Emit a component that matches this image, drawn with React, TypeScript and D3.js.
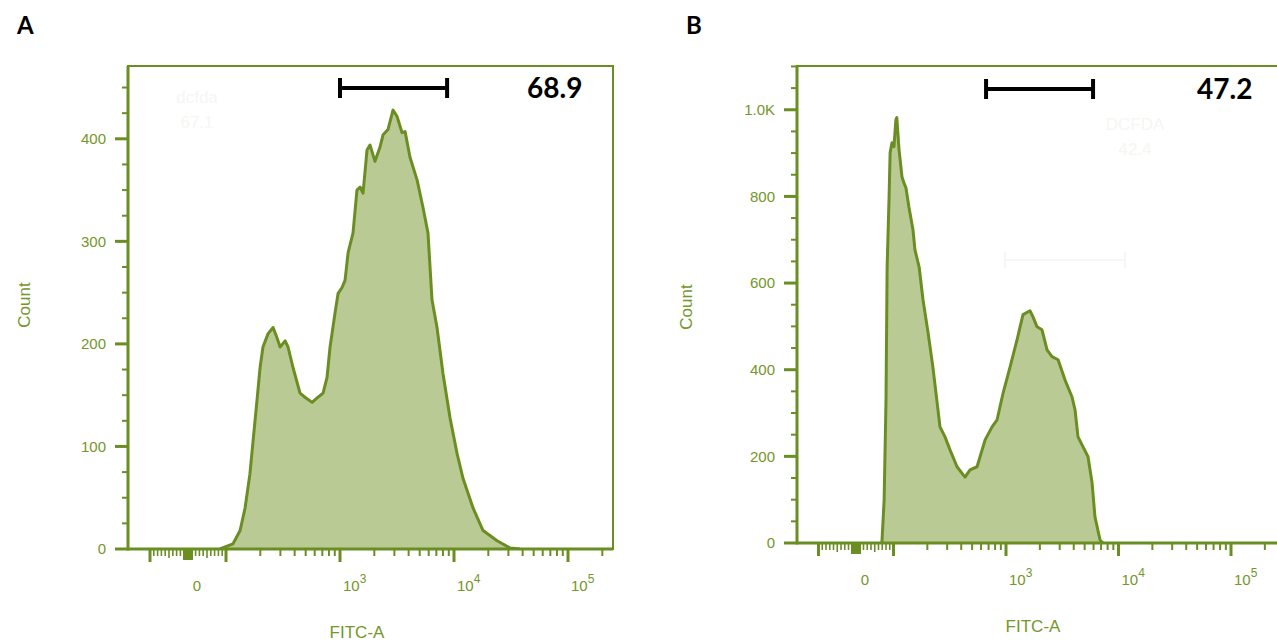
import React from 'react';
import * as d3 from 'd3';

// ---- Data ----
// Panel A histogram: FITC-A intensity vs count
const fitcA = [84, 115, 133, 147, 162, 173, 187, 199, 211, 234, 259, 280, 298, 330, 350, 387, 446, 493, 569, 641, 710, 769, 818, 904, 961, 1042, 1107, 1178, 1300, 1409, 1500, 1592, 1726, 1832, 2028, 2244, 2388, 2636, 2917, 3162, 3500, 3724, 4111, 4742, 5346, 5916, 6412, 7096, 8010, 9226, 10640, 11990, 14690, 17980, 23880, 31050, 37930];
const countA = [0, 5, 18, 40, 73, 106, 145, 177, 197, 210, 216, 206, 197, 203, 197, 177, 152, 148, 143, 148, 152, 167, 197, 230, 249, 255, 262, 289, 308, 350, 353, 347, 389, 394, 378, 392, 404, 409, 428, 422, 406, 407, 382, 360, 333, 308, 243, 216, 171, 128, 93, 69, 40, 18, 8, 1, 0];

// Panel B histogram
const fitcB = [69, 75, 80, 83, 88, 91, 96, 101, 105, 107, 112, 119, 124, 129, 137, 149, 155, 169, 183, 203, 224, 259, 287, 318, 367, 432, 479, 553, 652, 752, 832, 942, 1086, 1253, 1416, 1636, 1738, 1888, 2089, 2317, 2564, 2904, 3350, 3864, 4111, 4365, 4842, 5358, 5821, 6180, 6855, 7295];
const countB = [0, 99, 330, 637, 792, 901, 924, 915, 977, 982, 908, 845, 831, 820, 776, 723, 677, 637, 561, 485, 406, 268, 245, 215, 176, 152, 169, 176, 238, 268, 284, 346, 406, 469, 527, 536, 522, 499, 492, 446, 430, 423, 376, 337, 307, 245, 222, 199, 139, 60, 7, 0];

const yTicksA = [0, 100, 200, 300, 400];
const yTickLabelsA = ['0', '100', '200', '300', '400'];
const yTicksB = [0, 200, 400, 600, 800, 1000];
const yTickLabelsB = ['0', '200', '400', '600', '800', '1.0K'];

const xTickValues = [0, 1000, 10000, 100000];
const xTickBases = ['0', '10', '10', '10'];
const xTickExps = ['', '3', '4', '5'];

const gateA = [1000, 8700];
const gateB = [665, 5940];
const gateLabelA = '68.9';
const gateLabelB = '47.2';
const faintGateB = [979, 11430];
const faintNameA = 'dcfda';
const faintValueA = '67.1';
const faintNameB = 'DCFDA';
const faintValueB = '42.4';

// ---- Styles ----
const OLIVE = '#6b8e23';
const OLIVE_TEXT = '#74962a';
const FILL = '#b9ca95';
const FAINT = '#f6f6f2';
const FONT = '"Liberation Sans", Arial, sans-serif';
const BOLD_FONT = 'Lato, "Open Sans", sans-serif';

// biexponential-like display transform (linear near zero, log above 100)
const LIN = 100;
const LIN_DEC = 1 / 3;
function tf(v: number): number {
  const a = Math.abs(v);
  const t = a <= LIN ? (a / LIN) * LIN_DEC : LIN_DEC + Math.log10(a / LIN);
  return Math.sign(v) * t;
}

type PanelProps = {
  id: string;
  left: number; right: number; top: number; bottom: number;
  x0: number; decade: number;
  yZero: number; yMax: number; yMinorStep: number;
  yTicks: number[]; yLabels: string[];
  fitc: number[]; count: number[];
  gate: number[]; gateY: number; gateLabel: string; gateLabelX: number;
  letter: string; letterX: number;
  countX: number; countY: number; titleX: number;
  faintName: string; faintValue: string; faintX: number; faintY: number;
  faintGate?: number[]; faintGateY?: number;
};

function Panel(p: PanelProps) {
  const x = d3.scaleLinear()
    .domain([(p.left - p.x0) / p.decade, (p.right - p.x0) / p.decade])
    .range([p.left, p.right]);
  const X = (v: number) => x(tf(v));
  const y = d3.scaleLinear().domain([0, p.yMax]).range([p.yZero, p.top]);

  const pts = p.fitc.map((f, i) => ({ f, c: p.count[i] }));
  const area = d3.area<{ f: number; c: number }>()
    .x(d => X(d.f)).y0(y(0)).y1(d => y(d.c));
  const line = d3.line<{ f: number; c: number }>()
    .x(d => X(d.f)).y(d => y(d.c));

  const minorY = d3.range(0, p.yMax + 1, p.yMinorStep).filter(v => !p.yTicks.includes(v));

  const linMinor: number[] = [];
  for (let i = -9; i <= 9; i++) if (i !== 0) linMinor.push(i * 10);
  const decMinor: number[] = [];
  for (let k = 2; k <= 5; k++) for (let m = 2; m <= 9; m++) decMinor.push(m * Math.pow(10, k));
  const majorX = [-100, 100, 1000, 10000, 100000];
  const inRange = (v: number) => X(v) >= p.left - 0.5 && X(v) <= p.right;

  const axisY = p.yZero;
  const clipId = 'clip-' + p.id;

  return (
    <g>
      <defs>
        <clipPath id={clipId}>
          <rect x={p.left} y={p.top} width={p.right - p.left} height={p.yZero - p.top} />
        </clipPath>
      </defs>
      <text x={p.letterX} y={34} fontFamily={BOLD_FONT} fontWeight={700} fontSize={24} fill="#000">{p.letter}</text>

      {/* faint FlowJo gate annotations */}
      <text x={p.faintX} y={p.faintY} fontFamily={FONT} fontSize={17} fill={FAINT} textAnchor="middle">{p.faintName}</text>
      <text x={p.faintX} y={p.faintY + 25} fontFamily={FONT} fontSize={17} fill={FAINT} textAnchor="middle">{p.faintValue}</text>
      {p.faintGate && (
        <g stroke={FAINT} strokeWidth={2}>
          <line x1={X(p.faintGate[0])} x2={X(p.faintGate[1])} y1={p.faintGateY} y2={p.faintGateY} />
          <line x1={X(p.faintGate[0])} x2={X(p.faintGate[0])} y1={p.faintGateY! - 8} y2={p.faintGateY! + 8} />
          <line x1={X(p.faintGate[1])} x2={X(p.faintGate[1])} y1={p.faintGateY! - 8} y2={p.faintGateY! + 8} />
        </g>
      )}

      {/* histogram */}
      <g clipPath={`url(#${clipId})`}>
        <path d={area(pts) || ''} fill={FILL} />
        <path d={line(pts) || ''} fill="none" stroke={OLIVE} strokeWidth={3} strokeLinejoin="round" />
      </g>

      {/* frame */}
      <rect x={p.left} y={p.top} width={p.right - p.left} height={p.yZero - p.top} fill="none" stroke={OLIVE} strokeWidth={2} />
      <line x1={p.left} x2={p.left} y1={p.top} y2={axisY + 1.5} stroke={OLIVE} strokeWidth={3} />
      <line x1={p.left} x2={p.right} y1={axisY} y2={axisY} stroke={OLIVE} strokeWidth={3} />

      {/* y ticks */}
      {p.yTicks.map((v, i) => (
        <g key={'yt' + v}>
          <line x1={p.left - 13} x2={p.left} y1={y(v)} y2={y(v)} stroke={OLIVE} strokeWidth={3} />
          <text x={p.left - 22} y={y(v)} dy="0.35em" textAnchor="end" fontFamily={FONT} fontSize={15} fill={OLIVE_TEXT}>{p.yLabels[i]}</text>
        </g>
      ))}
      {minorY.map(v => (
        <line key={'ym' + v} x1={p.left - 6} x2={p.left} y1={y(v)} y2={y(v)} stroke={OLIVE} strokeWidth={2} />
      ))}
      <text transform={`translate(${p.countX},${p.countY}) rotate(-90)`} textAnchor="middle" fontFamily={FONT} fontSize={17} fill={OLIVE_TEXT}>Count</text>

      {/* x ticks */}
      {linMinor.filter(inRange).map(v => (
        <line key={'xl' + v} x1={X(v)} x2={X(v)} y1={axisY} y2={axisY + (Math.abs(v) === 50 ? 9 : 7)} stroke={OLIVE} strokeWidth={1.6} />
      ))}
      {decMinor.filter(inRange).map(v => (
        <line key={'xd' + v} x1={X(v)} x2={X(v)} y1={axisY} y2={axisY + 7} stroke={OLIVE} strokeWidth={2} />
      ))}
      {majorX.filter(inRange).map(v => (
        <line key={'xM' + v} x1={X(v)} x2={X(v)} y1={axisY} y2={axisY + 13} stroke={OLIVE} strokeWidth={3} />
      ))}
      <rect x={X(0) - 5} y={axisY} width={10} height={11} fill={OLIVE} />
      {xTickValues.map((v, i) => (
        v === 0 ? (
          <text key={'xlab' + i} x={X(v) + 9} y={axisY + 42} textAnchor="middle" fontFamily={FONT} fontSize={15} fill={OLIVE_TEXT}>{xTickBases[i]}</text>
        ) : (
          <text key={'xlab' + i} x={X(v) + 3} y={axisY + 42} textAnchor="start" fontFamily={FONT} fontSize={15} fill={OLIVE_TEXT}>
            <tspan>{xTickBases[i]}</tspan>
            <tspan dy={-8} fontSize={12}>{xTickExps[i]}</tspan>
          </text>
        )
      ))}
      <text x={p.titleX} y={axisY + 89} textAnchor="middle" fontFamily={FONT} fontSize={17} fill={OLIVE_TEXT}>FITC-A</text>

      {/* gate bar */}
      <g stroke="#000" strokeWidth={4}>
        <line x1={X(p.gate[0])} x2={X(p.gate[1])} y1={p.gateY} y2={p.gateY} />
        <line x1={X(p.gate[0])} x2={X(p.gate[0])} y1={p.gateY - 10} y2={p.gateY + 10} />
        <line x1={X(p.gate[1])} x2={X(p.gate[1])} y1={p.gateY - 10} y2={p.gateY + 10} />
      </g>
      <text x={p.gateLabelX} y={p.gateY + 10} fontFamily={BOLD_FONT} fontWeight={700} fontSize={28} fill="#000">{p.gateLabel}</text>
    </g>
  );
}

export default function App() {
  return (
    <svg width={1277} height={644} style={{ position: 'absolute', left: 0, top: 0, background: '#fff' }}>
      <rect width={1277} height={644} fill="#fff" />
      <Panel id="A" left={128} right={613} top={66} bottom={549}
        x0={188} decade={114} yZero={549} yMax={471} yMinorStep={25}
        yTicks={yTicksA} yLabels={yTickLabelsA}
        fitc={fitcA} count={countA}
        gate={gateA} gateY={88} gateLabel={gateLabelA} gateLabelX={527}
        letter="A" letterX={17} countX={30} countY={305} titleX={357}
        faintName={faintNameA} faintValue={faintValueA} faintX={197} faintY={103} />
      <Panel id="B" left={797} right={1284} top={66} bottom={543}
        x0={856} decade={112.5} yZero={543} yMax={1101} yMinorStep={50}
        yTicks={yTicksB} yLabels={yTickLabelsB}
        fitc={fitcB} count={countB}
        gate={gateB} gateY={89} gateLabel={gateLabelB} gateLabelX={1197}
        letter="B" letterX={686} countX={692} countY={307} titleX={1033}
        faintName={faintNameB} faintValue={faintValueB} faintX={1135} faintY={130}
        faintGate={faintGateB} faintGateY={260} />
    </svg>
  );
}
